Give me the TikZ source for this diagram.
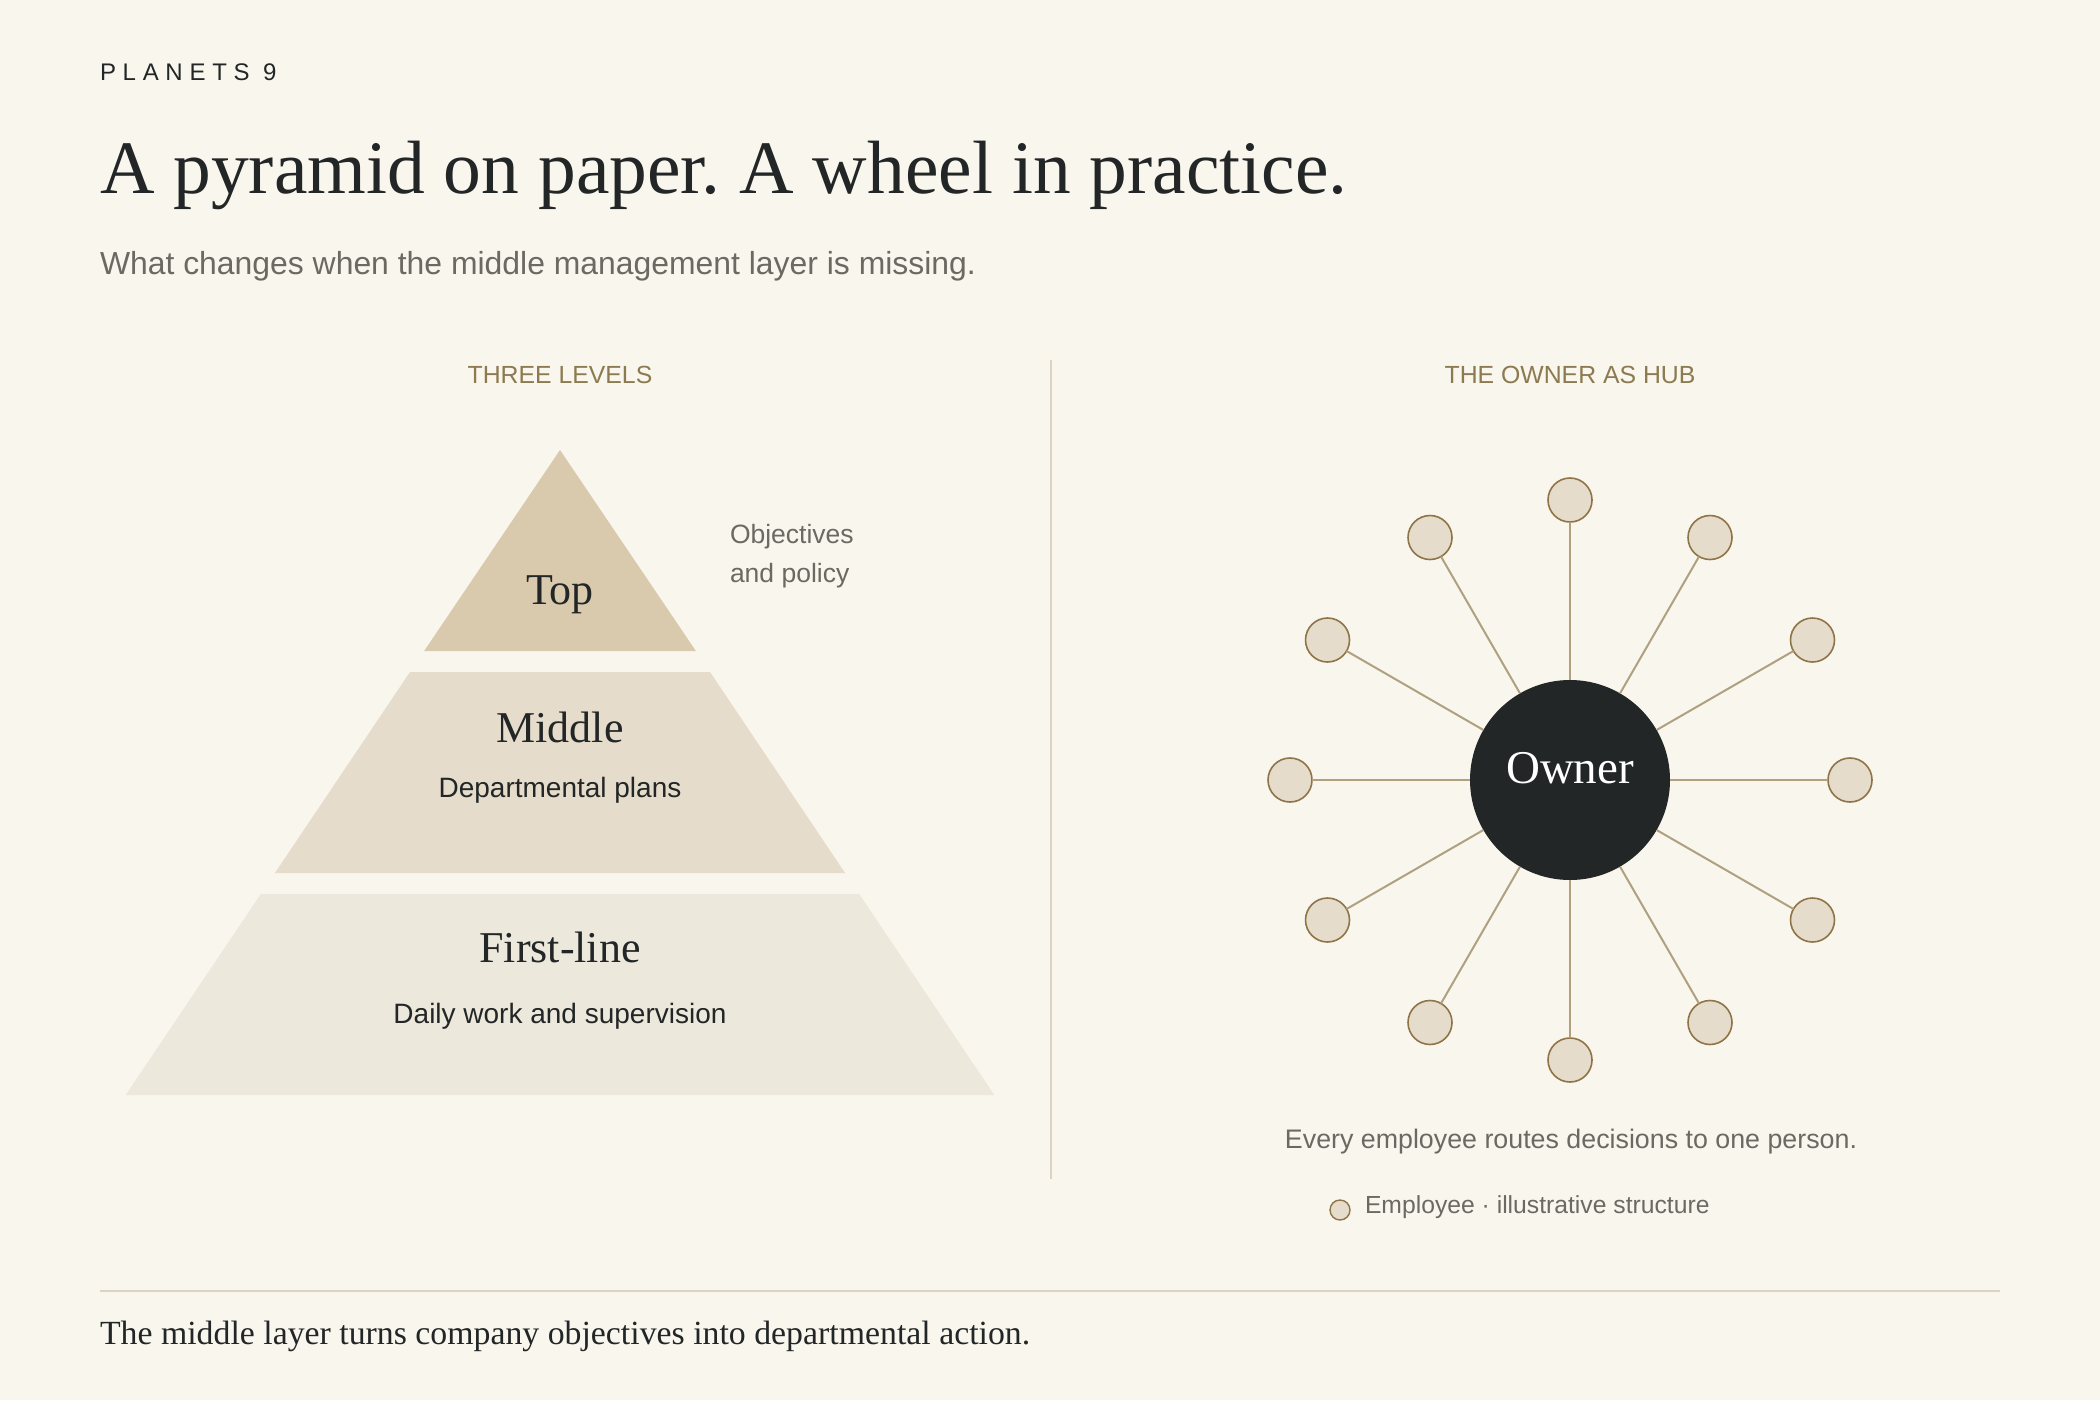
\documentclass[tikz,border=0pt]{standalone}
\usepackage{fontspec}
\setmainfont{Liberation Serif}
\setsansfont{Liberation Sans}
\newfontfamily\spacedsans[LetterSpace=28]{Liberation Sans}
\definecolor{bgc}{HTML}{F9F6EE}
\definecolor{ink}{HTML}{222626}
\definecolor{graytxt}{HTML}{6B6A62}
\definecolor{goldtxt}{HTML}{8C7A50}
\definecolor{topfill}{HTML}{D9C9AD}
\definecolor{midfill}{HTML}{E5DCCB}
\definecolor{lowfill}{HTML}{EDE8DC}
\definecolor{rulec}{HTML}{DCD3C2}
\definecolor{spokec}{HTML}{B0A080}
\definecolor{empedge}{HTML}{8E7447}
\newcommand\fsz[2]{\fontsize{#1}{#2}\selectfont}
\frenchspacing
\begin{document}
\begin{tikzpicture}[x=1pt,y=-1pt,
  every node/.style={inner sep=0pt, outer sep=0pt},
  header/.style={font=\sffamily\fsz{24.8}{30}, text=goldtxt, anchor=base},
  levelname/.style={font=\rmfamily\fsz{44}{52}, text=ink, anchor=base},
  leveldesc/.style={font=\sffamily\fsz{28}{34}, text=ink, anchor=base},
  note/.style={font=\sffamily\fsz{26.5}{32}, text=graytxt, anchor=base west},
  emp/.style={circle, minimum size=44pt, fill=midfill, draw=empedge, line width=1.6pt},
  spoke/.style={draw=spokec, line width=2pt},
  hub/.style={circle, minimum size=200pt, fill=ink}
]
\fill[bgc] (0,0) rectangle (2100,1400);
\useasboundingbox (0,0) rectangle (2100,1400);

% heading
\node[anchor=base west, font=\spacedsans\fsz{24}{29}, text=ink] (brand) at (100,80) {PLANETS 9};
\node[anchor=base west, font=\rmfamily\fsz{75.5}{90}, text=ink] (title) at (100,193) {A pyramid on paper. A wheel in practice.};
\node[anchor=base west, font=\sffamily\fsz{31.9}{38}, text=graytxt] (subtitle) at (100,274) {What changes when the middle management layer is missing.};

% section headers
\node[header] (hleft) at (560,383.7) {THREE LEVELS};
\node[header] (hright) at (1570,383.7) {THE OWNER AS HUB};

% divider
\draw[rulec, line width=1.5pt] (1051,360) -- (1051,1179);

% pyramid
\fill[topfill] (560,450) -- (695.9,651) -- (424.1,651) -- cycle;
\fill[midfill] (410,672) -- (710,672) -- (845.1,873) -- (274.9,873) -- cycle;
\fill[lowfill] (260.8,894) -- (859.2,894) -- (994.3,1095) -- (125.7,1095) -- cycle;

\node[levelname] (top) at (560,604) {Top};
\node[levelname] (middle) at (560,742) {Middle};
\node[leveldesc] (middesc) at (560,797.6) {Departmental plans};
\node[levelname] (first) at (560,962.4) {First-line};
\node[leveldesc] (firstdesc) at (560,1023) {Daily work and supervision};
\node[note] (obj1) at (730,543) {Objectives};
\node[note] (obj2) at (730,582) {and policy};

% hub
\node[hub] (owner) at (1570,780) {};
\node[anchor=base, font=\rmfamily\fsz{47}{56}, text=white] (ownerlbl) at (1570,783) {Owner};
\foreach \i in {0,...,11} {
  \node[emp] (e\i) at ({1570+280*cos(90-30*\i)},{780-280*sin(90-30*\i)}) {};
  \draw[spoke] (owner) -- (e\i);
}

\node[anchor=base, font=\sffamily\fsz{26.8}{32}, text=graytxt] (caption) at (1571,1148) {Every employee routes decisions to one person.};
\node[circle, minimum size=20pt, fill=midfill, draw=empedge, line width=1.4pt] (legdot) at (1340,1210) {};
\node[anchor=base west, font=\sffamily\fsz{24.7}{30}, text=graytxt] (legtext) at (1365,1213) {Employee · illustrative structure};

% footer
\draw[rulec, line width=2pt] (100,1291) -- (2000,1291);
\node[anchor=base west, font=\rmfamily\fsz{33.8}{41}, text=ink] (footer) at (100,1344) {The middle layer turns company objectives into departmental action.};
\end{tikzpicture}
\end{document}
